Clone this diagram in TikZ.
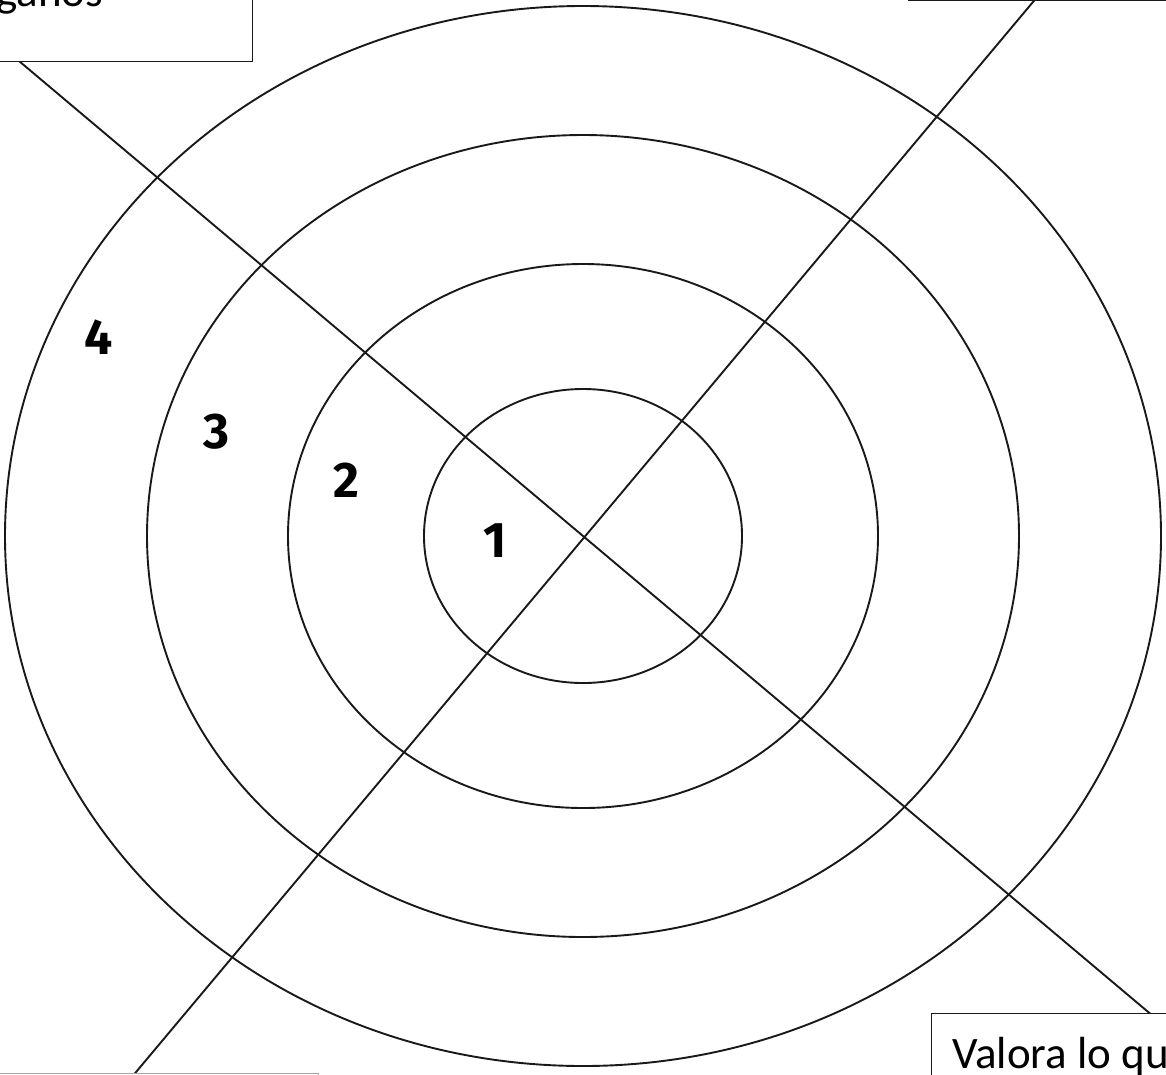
\documentclass[tikz,border=0pt]{standalone}
\usepackage{fontspec}
\setmainfont{Carlito}
\newfontfamily\numfont{Fira Sans}
\begin{document}
\begin{tikzpicture}[x=1pt,y=-1pt,
  ring/.style={draw=black!90,line width=1.9pt},
  axis/.style={draw=black!90,line width=1.9pt},
  textbox/.style={draw=black!90,line width=1.3pt,fill=white},
  boxtext/.style={anchor=base west,inner sep=0pt,font=\fontsize{45}{45}\selectfont},
  digit/.style={font=\numfont\bfseries\fontsize{50}{50}\selectfont,inner sep=0pt}]
\useasboundingbox (0,0) rectangle (1166,1074);
% rings
\coordinate (c) at (583,536);
\draw[ring] (c) ellipse [x radius=578,y radius=530];
\draw[ring] (c) ellipse [x radius=436,y radius=401];
\draw[ring] (c) ellipse [x radius=295,y radius=272];
\draw[ring] (c) ellipse [x radius=159,y radius=147];
% axes
\coordinate (a1) at (0,45);
\coordinate (a2) at (1166,1027);
\coordinate (b1) at (1043,-10);
\coordinate (b2) at (126,1084);
\draw[axis] (a1) -- (a2);
\draw[axis] (b1) -- (b2);
% boxes
\node[textbox,anchor=south east,minimum width=300,minimum height=120] (tl) at (253,62) {};
\node[boxtext] (tltext) at (-4,6) {ganos};
\node[textbox,anchor=south west,minimum width=300,minimum height=100] (tr) at (908,1) {};
\node[textbox,anchor=north west,minimum width=300,minimum height=100] (br) at (931,1013) {};
\node[boxtext] (brtext) at (952,1068) {Valora lo que};
\node[textbox,draw=black!35,line width=1pt,anchor=north west,minimum width=320,minimum height=60] (bl) at (-2,1073) {};
% digits
\node[digit] (n4) at (99,337) {4};
\node[digit] (n3) at (216,432) {3};
\node[digit] (n2) at (346,480) {2};
\node[digit] (n1) at (495,541) {1};
\end{tikzpicture}
\end{document}
